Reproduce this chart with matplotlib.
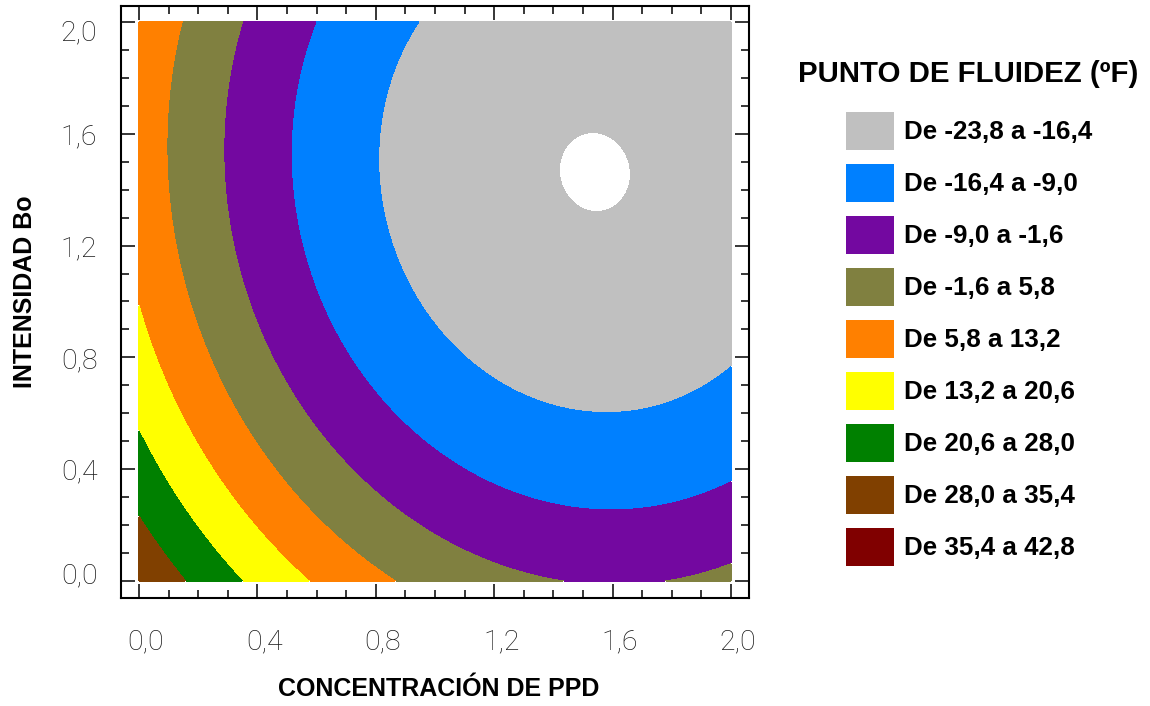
import numpy as np
import matplotlib
matplotlib.use("Agg")
import matplotlib.pyplot as plt
from matplotlib.patches import Patch
from matplotlib.ticker import MultipleLocator
from matplotlib.transforms import ScaledTranslation

# Fitted second-order model for pour point (ºF):
# y = b0 + b1*PPD + b2*Bo + b11*PPD^2 + b22*Bo^2 + b12*PPD*Bo
b0 = 34.89
b1 = -45.95
b2 = -32.14
b11 = 14.3
b22 = 10.3
b12 = 1.3

# Contour levels and their fill colours
levels = [-23.8, -16.4, -9.0, -1.6, 5.8, 13.2, 20.6, 28.0, 35.4, 42.8]
colors = ["#C0C0C0", "#0080FF", "#7308A0", "#808040", "#FF8000",
          "#FFFF00", "#008000", "#804000", "#800000"]

tick_values = [0.0, 0.4, 0.8, 1.2, 1.6, 2.0]
tick_labels = ["0,0", "0,4", "0,8", "1,2", "1,6", "2,0"]

legend_title = "PUNTO DE FLUIDEZ (ºF)"
xlabel = "CONCENTRACIÓN DE PPD"
ylabel = "INTENSIDAD Bo"


def fmt(v):
    return f"{v:.1f}".replace(".", ",")


legend_labels = [f"De {fmt(lo)} a {fmt(hi)}" for lo, hi in zip(levels[:-1], levels[1:])]

# Response surface over the experimental region
ppd = np.linspace(0.0, 2.0, 500)
bo = np.linspace(0.0, 2.0, 500)
X, Y = np.meshgrid(ppd, bo)
Z = b0 + b1 * X + b2 * Y + b11 * X**2 + b22 * Y**2 + b12 * X * Y

W, H = 1150, 706
fig = plt.figure(figsize=(W / 100, H / 100), dpi=100)
fig.patch.set_facecolor("white")

ax = fig.add_axes([121 / W, 1 - 598 / H, (749 - 121) / W, (598 - 6) / H])
ax.contourf(X, Y, Z, levels=levels, colors=colors, antialiased=False)
ax.set_xlim(-0.0608, 2.0608)
ax.set_ylim(-0.0608, 2.057)

for s in ax.spines.values():
    s.set_linewidth(1.5)
    s.set_color("black")

ax.set_xticks(tick_values)
ax.set_yticks(tick_values)
ax.xaxis.set_minor_locator(MultipleLocator(0.1))
ax.yaxis.set_minor_locator(MultipleLocator(0.1))
ax.tick_params(which="both", direction="in", top=True, right=True, width=1.1, color="black")
ax.tick_params(which="major", length=10)
ax.tick_params(which="minor", length=5.5)

tick_font = dict(family=["Roboto", "DejaVu Sans"], weight="light", size=20.5)
ax.set_xticklabels(tick_labels, fontdict=tick_font, color="#1a1a1a")
ax.set_yticklabels(tick_labels, fontdict=tick_font, color="#1a1a1a")
ax.tick_params(axis="x", which="major", pad=22)
ax.tick_params(axis="y", which="major", pad=17)

# nudge the end labels inward the way the original software lays them out
for lab in ax.get_xticklabels():
    lab.set_transform(lab.get_transform() + ScaledTranslation(7 / 100, 0, fig.dpi_scale_trans))
ylabs = ax.get_yticklabels()
ylabs[-1].set_transform(ylabs[-1].get_transform() + ScaledTranslation(0, -8 / 100, fig.dpi_scale_trans))
ylabs[0].set_transform(ylabs[0].get_transform() + ScaledTranslation(0, 8 / 100, fig.dpi_scale_trans))

label_font = dict(family=["Liberation Sans", "DejaVu Sans"], weight="bold", size=18)
ax.set_xlabel(xlabel, fontdict=label_font, va="center")
ax.xaxis.set_label_coords((438.5 - 121) / 628, (598 - 689) / 592)
ax.set_ylabel(ylabel, fontdict=label_font, va="center")
ax.yaxis.set_label_coords((25 - 121) / 628, (598 - 292) / 592)

# Legend
fig.text(968.5 / W, 1 - 74 / H, legend_title, ha="center", va="center",
         family=["Liberation Sans", "DejaVu Sans"], weight="bold", size=21.2)
handles = [Patch(facecolor=c, edgecolor=c, linewidth=0) for c in colors]
fig.legend(handles, legend_labels, loc="upper left",
           bbox_to_anchor=(846 / W, 1 - 111.7 / H), bbox_transform=fig.transFigure,
           frameon=False, borderpad=0, borderaxespad=0,
           handlelength=48 / 26, handleheight=1.872, handletextpad=0.38,
           labelspacing=0.54,
           prop=dict(family=["Liberation Sans", "DejaVu Sans"], weight="bold", size=18.7))

fig.savefig("out.png", dpi=100, facecolor="white")
